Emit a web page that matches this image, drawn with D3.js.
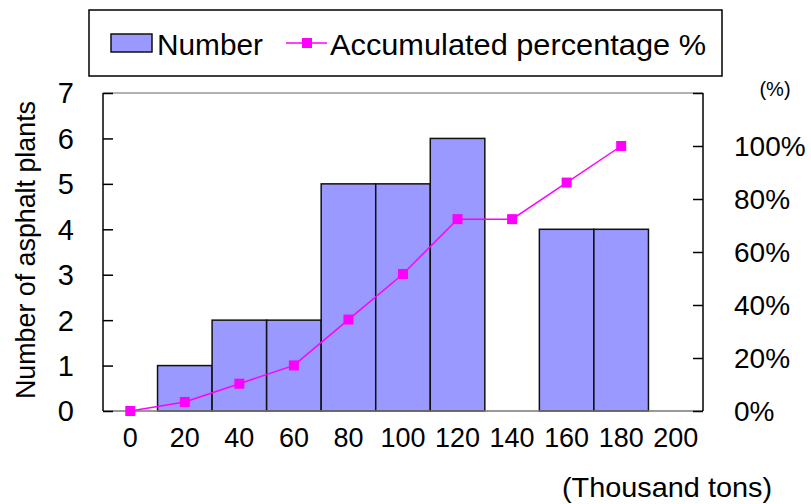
<!DOCTYPE html>
<html>
<head>
<meta charset="utf-8">
<script src="https://cdn.jsdelivr.net/npm/d3@7"></script>
<style>
  html, body { margin: 0; padding: 0; background: #fff; }
  svg { display: block; font-family: "Liberation Sans", Arial, sans-serif; }
</style>
</head>
<body>
<svg id="chart" width="811" height="504"></svg>
<script>
// Plant capacity classes (thousand tons)
const categories = ["0", "20", "40", "60", "80", "100", "120", "140", "160", "180", "200"];
// Number of asphalt plants in each class
const counts = [0, 1, 2, 2, 5, 5, 6, 0, 4, 4, 0];
// Accumulated percentage of plants (%), shown up to the 180 class
const accumCategories = ["0", "20", "40", "60", "80", "100", "120", "140", "160", "180"];
const accumPercent = [0, 3.4, 10.3, 17.2, 34.5, 51.7, 72.4, 72.4, 86.2, 100];
// Axis ticks
const leftTicks = [0, 1, 2, 3, 4, 5, 6, 7];
const rightTicks = [0, 20, 40, 60, 80, 100, 120];
const rightTickLabels = ["0%", "20%", "40%", "60%", "80%", "100%", "(%)"];

const svg = d3.select("#chart");
const plot = { left: 103, right: 703, top: 93, bottom: 411 };

const x = d3.scaleBand().domain(categories).range([plot.left, plot.right]).padding(0);
const yL = d3.scaleLinear().domain([0, 7]).range([plot.bottom, plot.top]);
const yR = d3.scaleLinear().domain([0, 120]).range([plot.bottom, plot.top]);

// Bars
svg.append("g").selectAll("rect")
  .data(categories.map((c, i) => ({ c, v: counts[i] })).filter(d => d.v > 0))
  .join("rect")
  .attr("x", d => x(d.c))
  .attr("y", d => yL(d.v))
  .attr("width", x.bandwidth())
  .attr("height", d => yL(0) - yL(d.v))
  .attr("fill", "#9999ff")
  .attr("stroke", "#111")
  .attr("stroke-width", 1.5);

// Plot frame: grey top and bottom edges
svg.append("line")
  .attr("x1", plot.left).attr("x2", plot.right)
  .attr("y1", plot.top).attr("y2", plot.top)
  .attr("stroke", "#999").attr("stroke-width", 1.5);
svg.append("line")
  .attr("x1", plot.left).attr("x2", plot.right)
  .attr("y1", plot.bottom).attr("y2", plot.bottom)
  .attr("stroke", "#777").attr("stroke-width", 1.5);

// Left axis with inward ticks
const leftAxis = svg.append("g")
  .attr("transform", `translate(${plot.left},0)`)
  .call(d3.axisRight(yL).tickValues(leftTicks).tickSize(10).tickFormat(""));
leftAxis.select(".domain").attr("d", `M0,${plot.top}V${plot.bottom}`).attr("stroke", "#000").attr("stroke-width", 1.5);
leftAxis.selectAll(".tick line").attr("stroke", "#000").attr("stroke-width", 1.5);

svg.append("g").selectAll("text")
  .data(leftTicks)
  .join("text")
  .attr("x", 74)
  .attr("y", d => yL(d))
  .attr("dy", "0.36em")
  .attr("text-anchor", "end")
  .attr("font-size", 29)
  .text(d => d);

// Right axis with inward ticks
const rightAxis = svg.append("g")
  .attr("transform", `translate(${plot.right},0)`)
  .call(d3.axisLeft(yR).tickValues(rightTicks).tickSize(10).tickFormat(""));
rightAxis.select(".domain").attr("d", `M0,${plot.top}V${plot.bottom}`).attr("stroke", "#000").attr("stroke-width", 1.5);
rightAxis.selectAll(".tick line").attr("stroke", "#000").attr("stroke-width", 1.5);

svg.append("g").selectAll("text")
  .data(rightTicks)
  .join("text")
  .attr("x", (d, i) => i === rightTicks.length - 1 ? 775 : 734)
  .attr("y", (d, i) => i === rightTicks.length - 1 ? yR(d) - 4 : yR(d))
  .attr("dy", "0.36em")
  .attr("text-anchor", (d, i) => i === rightTicks.length - 1 ? "middle" : "start")
  .attr("font-size", (d, i) => i === rightTicks.length - 1 ? 20 : 28)
  .text((d, i) => rightTickLabels[i]);

// X tick labels
svg.append("g").selectAll("text")
  .data(categories)
  .join("text")
  .attr("x", d => x(d) + x.bandwidth() / 2)
  .attr("y", 447)
  .attr("text-anchor", "middle")
  .attr("font-size", 28)
  .attr("textLength", d => d.length * 15)
  .attr("lengthAdjust", "spacingAndGlyphs")
  .text(d => d);

// Axis titles
svg.append("text")
  .attr("x", 667).attr("y", 497)
  .attr("text-anchor", "middle")
  .attr("font-size", 28)
  .attr("textLength", 210)
  .attr("lengthAdjust", "spacingAndGlyphs")
  .text("(Thousand tons)");

svg.append("text")
  .attr("transform", "translate(35,250) rotate(-90)")
  .attr("text-anchor", "middle")
  .attr("font-size", 27)
  .attr("textLength", 298)
  .attr("lengthAdjust", "spacingAndGlyphs")
  .text("Number of asphalt plants");

// Accumulated percentage line
const pts = accumCategories.map((c, i) => ({ c, v: accumPercent[i] }));
const lineGen = d3.line().x(d => x(d.c) + x.bandwidth() / 2).y(d => yR(d.v));
svg.append("path")
  .datum(pts)
  .attr("d", lineGen)
  .attr("fill", "none")
  .attr("stroke", "#ff00ff")
  .attr("stroke-width", 1.5);
svg.append("g").selectAll("rect")
  .data(pts)
  .join("rect")
  .attr("x", d => x(d.c) + x.bandwidth() / 2 - 5)
  .attr("y", d => yR(d.v) - 5)
  .attr("width", 10).attr("height", 10)
  .attr("fill", "#ff00ff");

// Legend
const legend = svg.append("g");
legend.append("rect")
  .attr("x", 89).attr("y", 10).attr("width", 633).attr("height", 66)
  .attr("fill", "#fff").attr("stroke", "#000").attr("stroke-width", 1.5);
legend.append("rect")
  .attr("x", 111).attr("y", 34).attr("width", 41).attr("height", 18)
  .attr("fill", "#9999ff").attr("stroke", "#111").attr("stroke-width", 1.5);
legend.append("text")
  .attr("x", 157).attr("y", 55)
  .attr("font-size", 30)
  .attr("textLength", 106)
  .attr("lengthAdjust", "spacingAndGlyphs")
  .text("Number");
legend.append("line")
  .attr("x1", 286).attr("x2", 327).attr("y1", 43).attr("y2", 43)
  .attr("stroke", "#ff00ff").attr("stroke-width", 1.5);
legend.append("rect")
  .attr("x", 302).attr("y", 38).attr("width", 10).attr("height", 10)
  .attr("fill", "#ff00ff");
legend.append("text")
  .attr("x", 330).attr("y", 55)
  .attr("font-size", 30)
  .attr("textLength", 376)
  .attr("lengthAdjust", "spacingAndGlyphs")
  .text("Accumulated percentage %");
</script>
</body>
</html>
